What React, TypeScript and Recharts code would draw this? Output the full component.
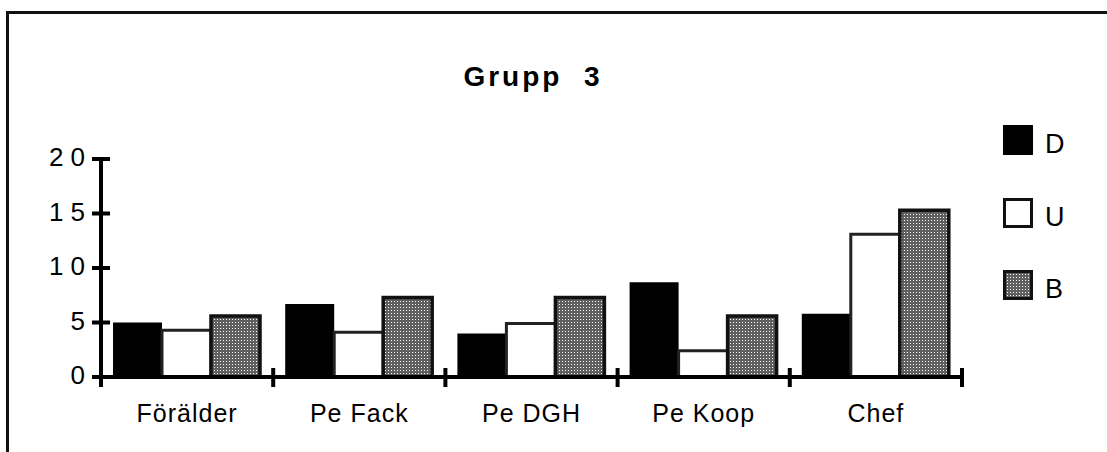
import React from 'react';
import { BarChart, Bar, XAxis, YAxis, Legend } from 'recharts';

// values
const categories = ['Förälder', 'Pe Fack', 'Pe DGH', 'Pe Koop', 'Chef'];
const seriesD = [5.0, 6.7, 4.0, 8.7, 5.8];
const seriesU = [4.3, 4.1, 4.9, 2.4, 13.1];
const seriesB = [5.6, 7.3, 7.3, 5.6, 15.3];
const yTicks = [0, 5, 10, 15, 20];
const legendLabels = ['D', 'U', 'B'];

const data = categories.map((name, i) => ({ name, D: seriesD[i], U: seriesU[i], B: seriesB[i] }));

const FONT = '"Liberation Sans", Arial, Helvetica, sans-serif';
const WIDTH = 1107;
const HEIGHT = 452;
const MARGIN = { top: 159, right: 145, bottom: 0, left: 0 };
const Y_AXIS_WIDTH = 101;
const TICK_SIZE = 9;
const TICK_MARGIN = 7;
const BAND = (WIDTH - MARGIN.left - MARGIN.right - Y_AXIS_WIDTH) / categories.length;
const DOT_BG = '#5f5f5f';

const YTick = (props: any) => {
  const { x, y, payload } = props;
  return (
    <g>
      <line x1={x + TICK_MARGIN} x2={x + TICK_MARGIN + 2 * TICK_SIZE} y1={y} y2={y} stroke="#000" strokeWidth={4} />
      <text x={x + 7} y={y} dy={7} textAnchor="end" fontSize={26} letterSpacing={7} fill="#000" fontFamily={FONT}>
        {payload.value}
      </text>
    </g>
  );
};

// tick marks sit on the category boundaries and cross the axis line
const CategoryTick = (props: any) => {
  const { x, y, payload, index, visibleTicksCount } = props;
  const left = x - BAND / 2;
  const right = x + BAND / 2;
  return (
    <g>
      <line x1={left} x2={left} y1={y - TICK_SIZE} y2={y + TICK_SIZE + 1} stroke="#000" strokeWidth={4} />
      {index === visibleTicksCount - 1 && (
        <line x1={right} x2={right} y1={y - TICK_SIZE} y2={y + TICK_SIZE + 1} stroke="#000" strokeWidth={4} />
      )}
      <text x={x} y={y} dy={45} textAnchor="middle" fontSize={25} letterSpacing={1} fill="#000" fontFamily={FONT}>
        {payload.value}
      </text>
    </g>
  );
};

const Swatch = ({ label }: { label: string }) => (
  <svg width={30} height={30} style={{ display: 'block' }}>
    <defs>
      <pattern id={`lg-dots-${label}`} width={3} height={3} patternUnits="userSpaceOnUse">
        <rect width={3} height={3} fill={DOT_BG} />
        <rect x={1} y={1} width={1} height={1} fill="#fff" />
      </pattern>
    </defs>
    {label === 'D' && <rect x={0} y={0} width={30} height={30} fill="#000" />}
    {label === 'U' && <rect x={1.5} y={1.5} width={27} height={27} fill="#fff" stroke="#111" strokeWidth={3} />}
    {label === 'B' && (
      <rect x={1.5} y={1.5} width={27} height={27} fill={`url(#lg-dots-${label})`} stroke="#111" strokeWidth={3} />
    )}
  </svg>
);

const LegendContent = () => (
  <div style={{ fontFamily: FONT }}>
    {legendLabels.map((label) => (
      <div key={label} style={{ display: 'flex', alignItems: 'flex-start', height: 72.5 }}>
        <Swatch label={label} />
        <span style={{ marginLeft: 12, fontSize: 27, lineHeight: '30px', position: 'relative', top: 4, color: '#000' }}>
          {label}
        </span>
      </div>
    ))}
  </div>
);

export default function App() {
  return (
    <div
      style={{
        position: 'absolute',
        left: 0,
        top: 0,
        width: WIDTH,
        height: HEIGHT,
        background: '#fff',
        fontFamily: FONT,
        overflow: 'hidden',
      }}
    >
      {/* frame, open at right and bottom */}
      <div
        style={{
          position: 'absolute',
          left: 6,
          top: 11,
          width: 1110,
          height: 450,
          borderTop: '3px solid #111',
          borderLeft: '3px solid #111',
        }}
      />
      <div
        style={{
          position: 'absolute',
          left: 533,
          top: 63,
          transform: 'translateX(-50%)',
          fontSize: 28,
          lineHeight: '28px',
          fontWeight: 'bold',
          letterSpacing: 3,
          whiteSpace: 'pre',
          color: '#000',
        }}
      >
        Grupp  3
      </div>
      <BarChart width={WIDTH} height={HEIGHT} data={data} margin={MARGIN} barCategoryGap={12} barGap={0}>
        <defs>
          <pattern id="dotsB" width={3} height={3} patternUnits="userSpaceOnUse">
            <rect width={3} height={3} fill={DOT_BG} />
            <rect x={1} y={1} width={1} height={1} fill="#fff" />
          </pattern>
        </defs>
        <XAxis
          dataKey="name"
          height={75}
          axisLine={{ stroke: '#000', strokeWidth: 4 }}
          tickLine={false}
          tickSize={0}
          tickMargin={0}
          tick={<CategoryTick />}
          interval={0}
        />
        <YAxis
          width={Y_AXIS_WIDTH}
          domain={[0, 20]}
          ticks={yTicks}
          axisLine={{ stroke: '#000', strokeWidth: 4 }}
          tickLine={false}
          tickSize={TICK_SIZE}
          tickMargin={TICK_MARGIN}
          tick={<YTick />}
          interval={0}
        />
        <Legend
          layout="vertical"
          align="center"
          verticalAlign="middle"
          wrapperStyle={{ left: 1003, top: 125, width: 100 }}
          content={<LegendContent />}
        />
        <Bar dataKey="D" fill="#000" isAnimationActive={false} />
        <Bar dataKey="U" fill="#fff" stroke="#222" strokeWidth={3} isAnimationActive={false} />
        <Bar dataKey="B" fill="url(#dotsB)" stroke="#111" strokeWidth={3.5} isAnimationActive={false} />
      </BarChart>
    </div>
  );
}
